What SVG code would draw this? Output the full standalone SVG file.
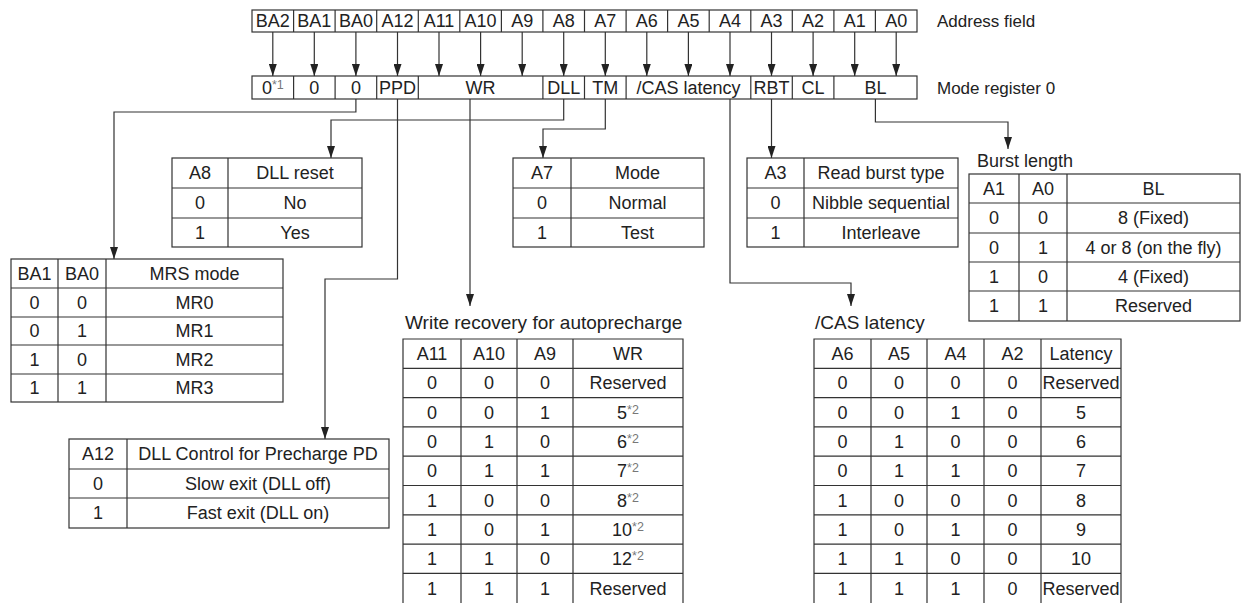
<svg xmlns="http://www.w3.org/2000/svg" width="1247" height="603" viewBox="0 0 1247 603">
<defs>
<style>
.t{font-family:"Liberation Sans",Arial,sans-serif;font-size:18px;fill:#222}
.lbl{font-size:17px}
.big{font-size:19px}
.c{text-anchor:middle}
.sup{font-size:12.5px;fill:#777}
.b{fill:none;stroke:#333;stroke-width:1.2}
.conn{fill:none;stroke:#333;stroke-width:1.2}
</style>
<marker id="ah" viewBox="0 0 10 10" refX="10" refY="5" markerWidth="12" markerHeight="8" preserveAspectRatio="none" orient="auto" markerUnits="userSpaceOnUse"><path d="M0,0 L10,5 L0,10z" fill="#222"/></marker>
</defs>
<rect width="1247" height="603" fill="#fff"/>

<g id="address-field">
<rect class="b" x="252" y="10" width="665" height="22"/>
<path class="b" d="M293.6,10V32M335.1,10V32M376.7,10V32M418.3,10V32M459.8,10V32M501.4,10V32M542.9,10V32M584.5,10V32M626.1,10V32M667.6,10V32M709.2,10V32M750.8,10V32M792.3,10V32M833.9,10V32M875.4,10V32"/>
<g class="t c">
<text x="272.8" y="27.4">BA2</text><text x="314.3" y="27.4">BA1</text><text x="355.9" y="27.4">BA0</text><text x="397.5" y="27.4">A12</text>
<text x="439" y="27.4">A11</text><text x="480.6" y="27.4">A10</text><text x="522.2" y="27.4">A9</text><text x="563.7" y="27.4">A8</text>
<text x="605.3" y="27.4">A7</text><text x="646.8" y="27.4">A6</text><text x="688.4" y="27.4">A5</text><text x="730" y="27.4">A4</text>
<text x="771.5" y="27.4">A3</text><text x="813.1" y="27.4">A2</text><text x="854.7" y="27.4">A1</text><text x="896.2" y="27.4">A0</text>
</g>
<text class="t lbl" x="937" y="27">Address field</text>
</g>

<g id="mode-register">
<rect class="b" x="252" y="76" width="665" height="23"/>
<path class="b" d="M293.6,76V99M335.1,76V99M376.7,76V99M418.3,76V99M542.9,76V99M584.5,76V99M626.1,76V99M750.8,76V99M792.3,76V99M833.9,76V99"/>
<g class="t c">
<text x="272.8" y="93.9">0<tspan class="sup" dy="-5">*1</tspan></text>
<text x="314.3" y="93.9">0</text><text x="355.9" y="93.9">0</text><text x="397.5" y="93.9">PPD</text>
<text x="480.6" y="93.9">WR</text><text x="563.7" y="93.9">DLL</text><text x="605.3" y="93.9">TM</text>
<text x="688.4" y="93.9">/CAS latency</text><text x="771.5" y="93.9">RBT</text><text x="813.1" y="93.9">CL</text><text x="875.4" y="93.9">BL</text>
</g>
<text class="t lbl" x="937" y="93.5">Mode register 0</text>
</g>

<g id="connectors">
<path class="conn" marker-end="url(#ah)" d="M272.8,32V76"/>
<path class="conn" marker-end="url(#ah)" d="M314.3,32V76"/>
<path class="conn" marker-end="url(#ah)" d="M355.9,32V76"/>
<path class="conn" marker-end="url(#ah)" d="M397.5,32V76"/>
<path class="conn" marker-end="url(#ah)" d="M439,32V76"/>
<path class="conn" marker-end="url(#ah)" d="M480.6,32V76"/>
<path class="conn" marker-end="url(#ah)" d="M522.2,32V76"/>
<path class="conn" marker-end="url(#ah)" d="M563.7,32V76"/>
<path class="conn" marker-end="url(#ah)" d="M605.3,32V76"/>
<path class="conn" marker-end="url(#ah)" d="M646.8,32V76"/>
<path class="conn" marker-end="url(#ah)" d="M688.4,32V76"/>
<path class="conn" marker-end="url(#ah)" d="M730,32V76"/>
<path class="conn" marker-end="url(#ah)" d="M771.5,32V76"/>
<path class="conn" marker-end="url(#ah)" d="M813.1,32V76"/>
<path class="conn" marker-end="url(#ah)" d="M854.7,32V76"/>
<path class="conn" marker-end="url(#ah)" d="M896.2,32V76"/>
<path class="conn" marker-end="url(#ah)" d="M355.9,99V112H114V259"/>
<path class="conn" marker-end="url(#ah)" d="M563.7,99V120H331V158"/>
<path class="conn" marker-end="url(#ah)" d="M605.3,99V129H543V158"/>
<path class="conn" marker-end="url(#ah)" d="M397.5,99V279H325V439"/>
<path class="conn" marker-end="url(#ah)" d="M470,99V306"/>
<path class="conn" marker-end="url(#ah)" d="M730,99V283H851V306"/>
<path class="conn" marker-end="url(#ah)" d="M771.5,99V158"/>
<path class="conn" marker-end="url(#ah)" d="M875.4,99V122H1008V149"/>
</g>

<g id="dll-reset-table">
<rect class="b" x="172" y="158" width="190" height="89"/>
<path class="b" d="M228,158V247M172,188H362M172,218H362"/>
<g class="t c">
<text x="200" y="179.4">A8</text><text x="295" y="179.4">DLL reset</text>
<text x="200" y="209.4">0</text><text x="295" y="209.4">No</text>
<text x="200" y="238.9">1</text><text x="295" y="238.9">Yes</text>
</g>
</g>

<g id="test-mode-table">
<rect class="b" x="513" y="158" width="191" height="89"/>
<path class="b" d="M571,158V247M513,188H704M513,218H704"/>
<g class="t c">
<text x="542" y="179.4">A7</text><text x="637.5" y="179.4">Mode</text>
<text x="542" y="209.4">0</text><text x="637.5" y="209.4">Normal</text>
<text x="542" y="238.9">1</text><text x="637.5" y="238.9">Test</text>
</g>
</g>

<g id="read-burst-table">
<rect class="b" x="747" y="158" width="211" height="89"/>
<path class="b" d="M804,158V247M747,188H958M747,218H958"/>
<g class="t c">
<text x="775.5" y="179.4">A3</text><text x="881" y="179.4">Read burst type</text>
<text x="775.5" y="209.4">0</text><text x="881" y="209.4">Nibble sequential</text>
<text x="775.5" y="238.9">1</text><text x="881" y="238.9">Interleave</text>
</g>
</g>

<g id="burst-length-table">
<text class="t" x="977" y="166.5">Burst length</text>
<rect class="b" x="969" y="174" width="271" height="147"/>
<path class="b" d="M1019,174V321M1067,174V321M969,203H1240M969,233H1240M969,262H1240M969,291H1240"/>
<g class="t c">
<text x="994" y="194.9">A1</text><text x="1043" y="194.9">A0</text><text x="1153.5" y="194.9">BL</text>
<text x="994" y="224.4">0</text><text x="1043" y="224.4">0</text><text x="1153.5" y="224.4">8 (Fixed)</text>
<text x="994" y="253.9">0</text><text x="1043" y="253.9">1</text><text x="1153.5" y="253.9">4 or 8 (on the fly)</text>
<text x="994" y="282.9">1</text><text x="1043" y="282.9">0</text><text x="1153.5" y="282.9">4 (Fixed)</text>
<text x="994" y="312.4">1</text><text x="1043" y="312.4">1</text><text x="1153.5" y="312.4">Reserved</text>
</g>
</g>

<g id="mrs-mode-table">
<rect class="b" x="11" y="259" width="272" height="143"/>
<path class="b" d="M58,259V402M106,259V402M11,288H283M11,317H283M11,345H283M11,374H283"/>
<g class="t c">
<text x="34.5" y="279.9">BA1</text><text x="82" y="279.9">BA0</text><text x="194.5" y="279.9">MRS mode</text>
<text x="34.5" y="308.9">0</text><text x="82" y="308.9">0</text><text x="194.5" y="308.9">MR0</text>
<text x="34.5" y="337.4">0</text><text x="82" y="337.4">1</text><text x="194.5" y="337.4">MR1</text>
<text x="34.5" y="365.9">1</text><text x="82" y="365.9">0</text><text x="194.5" y="365.9">MR2</text>
<text x="34.5" y="394.4">1</text><text x="82" y="394.4">1</text><text x="194.5" y="394.4">MR3</text>
</g>
</g>

<g id="ppd-table">
<rect class="b" x="69" y="439" width="320" height="89"/>
<path class="b" d="M127,439V528M69,469H389M69,498H389"/>
<g class="t c">
<text x="98" y="460.4">A12</text><text x="258" y="460.4">DLL Control for Precharge PD</text>
<text x="98" y="489.9">0</text><text x="258" y="489.9">Slow exit (DLL off)</text>
<text x="98" y="519.4">1</text><text x="258" y="519.4">Fast exit (DLL on)</text>
</g>
</g>

<g id="write-recovery-table">
<text class="t big" x="405" y="328.8">Write recovery for autoprecharge</text>
<path class="b" d="M403,603V339H683V603M461,339V603M517,339V603M573,339V603M403,368.3H683M403,397.6H683M403,426.9H683M403,456.2H683M403,485.5H683M403,514.8H683M403,544.1H683M403,573.4H683"/>
<g class="t c">
<text x="432" y="360.1">A11</text><text x="489" y="360.1">A10</text><text x="545" y="360.1">A9</text><text x="628" y="360.1">WR</text>
<text x="432" y="389.4">0</text><text x="489" y="389.4">0</text><text x="545" y="389.4">0</text><text x="628" y="389.4">Reserved</text>
<text x="432" y="418.7">0</text><text x="489" y="418.7">0</text><text x="545" y="418.7">1</text><text x="628" y="418.7">5<tspan class="sup" dy="-5">*2</tspan></text>
<text x="432" y="448">0</text><text x="489" y="448">1</text><text x="545" y="448">0</text><text x="628" y="448">6<tspan class="sup" dy="-5">*2</tspan></text>
<text x="432" y="477.3">0</text><text x="489" y="477.3">1</text><text x="545" y="477.3">1</text><text x="628" y="477.3">7<tspan class="sup" dy="-5">*2</tspan></text>
<text x="432" y="506.6">1</text><text x="489" y="506.6">0</text><text x="545" y="506.6">0</text><text x="628" y="506.6">8<tspan class="sup" dy="-5">*2</tspan></text>
<text x="432" y="535.9">1</text><text x="489" y="535.9">0</text><text x="545" y="535.9">1</text><text x="628" y="535.9">10<tspan class="sup" dy="-5">*2</tspan></text>
<text x="432" y="565.2">1</text><text x="489" y="565.2">1</text><text x="545" y="565.2">0</text><text x="628" y="565.2">12<tspan class="sup" dy="-5">*2</tspan></text>
<text x="432" y="594.5">1</text><text x="489" y="594.5">1</text><text x="545" y="594.5">1</text><text x="628" y="594.5">Reserved</text>
</g>
</g>

<g id="cas-latency-table">
<text class="t big" x="815" y="328.8">/CAS latency</text>
<path class="b" d="M814,603V339H1121V603M871,339V603M927,339V603M984,339V603M1041,339V603M814,368.3H1121M814,397.6H1121M814,426.9H1121M814,456.2H1121M814,485.5H1121M814,514.8H1121M814,544.1H1121M814,573.4H1121"/>
<g class="t c">
<text x="842.5" y="360.1">A6</text><text x="899" y="360.1">A5</text><text x="955.5" y="360.1">A4</text><text x="1012.5" y="360.1">A2</text><text x="1081" y="360.1">Latency</text>
<text x="842.5" y="389.4">0</text><text x="899" y="389.4">0</text><text x="955.5" y="389.4">0</text><text x="1012.5" y="389.4">0</text><text x="1081" y="389.4">Reserved</text>
<text x="842.5" y="418.7">0</text><text x="899" y="418.7">0</text><text x="955.5" y="418.7">1</text><text x="1012.5" y="418.7">0</text><text x="1081" y="418.7">5</text>
<text x="842.5" y="448">0</text><text x="899" y="448">1</text><text x="955.5" y="448">0</text><text x="1012.5" y="448">0</text><text x="1081" y="448">6</text>
<text x="842.5" y="477.3">0</text><text x="899" y="477.3">1</text><text x="955.5" y="477.3">1</text><text x="1012.5" y="477.3">0</text><text x="1081" y="477.3">7</text>
<text x="842.5" y="506.6">1</text><text x="899" y="506.6">0</text><text x="955.5" y="506.6">0</text><text x="1012.5" y="506.6">0</text><text x="1081" y="506.6">8</text>
<text x="842.5" y="535.9">1</text><text x="899" y="535.9">0</text><text x="955.5" y="535.9">1</text><text x="1012.5" y="535.9">0</text><text x="1081" y="535.9">9</text>
<text x="842.5" y="565.2">1</text><text x="899" y="565.2">1</text><text x="955.5" y="565.2">0</text><text x="1012.5" y="565.2">0</text><text x="1081" y="565.2">10</text>
<text x="842.5" y="594.5">1</text><text x="899" y="594.5">1</text><text x="955.5" y="594.5">1</text><text x="1012.5" y="594.5">0</text><text x="1081" y="594.5">Reserved</text>
</g>
</g>
</svg>
